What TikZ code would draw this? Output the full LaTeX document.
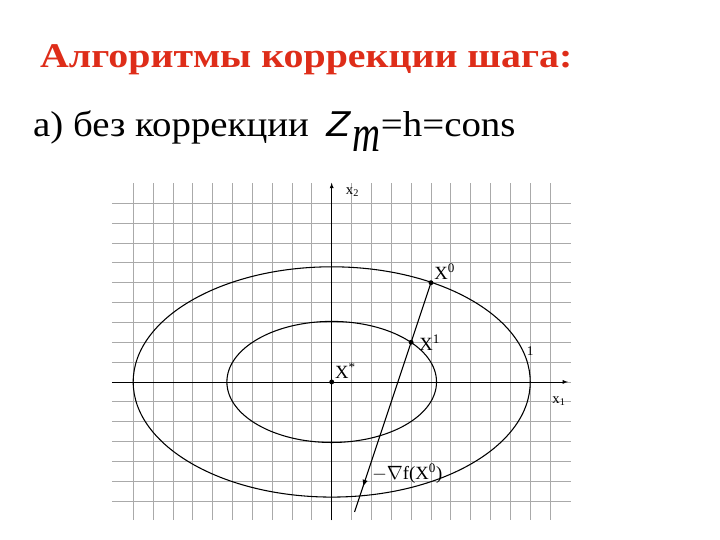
\documentclass[tikz,border=0pt]{standalone}
\usepackage{fontspec}
\setmainfont{Liberation Serif}
\newfontfamily\zfont{Liberation Sans}
\usetikzlibrary{positioning,arrows,decorations.markings}
\definecolor{titlered}{RGB}{222,45,25}
\definecolor{gridgray}{RGB}{170,170,170}

\begin{document}
\begin{tikzpicture}[x=14.89pt,y=14.89pt, ele/.style={fill=black,circle,minimum width=.8pt,inner sep=1.3pt},
  lbl/.style={font=\fontsize{14}{14}\selectfont,inner sep=1pt}, axlbl/.style={font=\fontsize{11}{11}\selectfont,inner sep=1pt}]
\useasboundingbox (-16.71,-7.96) rectangle (19.56,19.24);
% grid
\foreach \i in {-10,...,11} \draw[gridgray,line width=.6pt] (\i,-6.95) -- (\i,10);
\foreach \j in {-6,...,9} \draw[gridgray,line width=.6pt] (-11.08,\j) -- (12.05,\j);
% axes
\coordinate (xl) at (-11.08,0);
\coordinate (xr) at (11.9,0);
\coordinate (yb) at (0,-6.97);
\coordinate (yt) at (0,10.03);
\draw[-latex,thin] (xl) -- (xr);
\draw[-latex,thin] (yb) -- (yt);
\node[axlbl] (lx1) at (11.45,-0.95) {x\textsubscript{1}};
\node[axlbl] (lx2) at (1.05,9.55) {x\textsubscript{2}};
% level lines
\draw[line width=.8pt] (0,0) ellipse (10 and 5.8);
\draw[line width=.8pt] (0,0) ellipse (5.28 and 3.05);
\node[font=\fontsize{10}{10}\selectfont,inner sep=0pt] (one) at (10.0,1.55) {1};
% points
\node[ele,label={[lbl,label distance=0pt]above right:X\textsuperscript{*}}] (xs) at (0,0) {};
\node[ele,label={[lbl,label distance=0pt]above right:X\textsuperscript{0}}] (x0) at (5,5) {};
\node[ele,label={[lbl,label distance=3pt]right:X\textsuperscript{1}}] (x1) at (4,2) {};
\coordinate (xend) at (1.15,-6.55);
\draw[line width=.8pt,decoration={markings,mark=at position 0.89 with {\arrow{latex}}},postaction={decorate}] (x0.center) -- (x1.center) -- (xend);
\node[lbl] (grad) at (3.8,-4.6) {$-\nabla$f(X\textsuperscript{0})};
% text
\node[anchor=base west,text=titlered,font=\bfseries\fontsize{26}{26}\selectfont,inner sep=0pt] (title) at (-14.7,15.85)
  {\scalebox{1.15}[1]{Алгоритмы коррекции шага:}};
\node[anchor=base west,font=\fontsize{27}{27}\selectfont,inner sep=0pt] (sub) at (-15.05,12.35)
  {\scalebox{1.08}[1]{а) без коррекции\hspace{12pt}{\zfont\itshape Z}\hspace{2pt}\raisebox{-11pt}{\scalebox{1}[1.45]{\itshape m}}=h=cons}};
\end{tikzpicture}
\end{document}
